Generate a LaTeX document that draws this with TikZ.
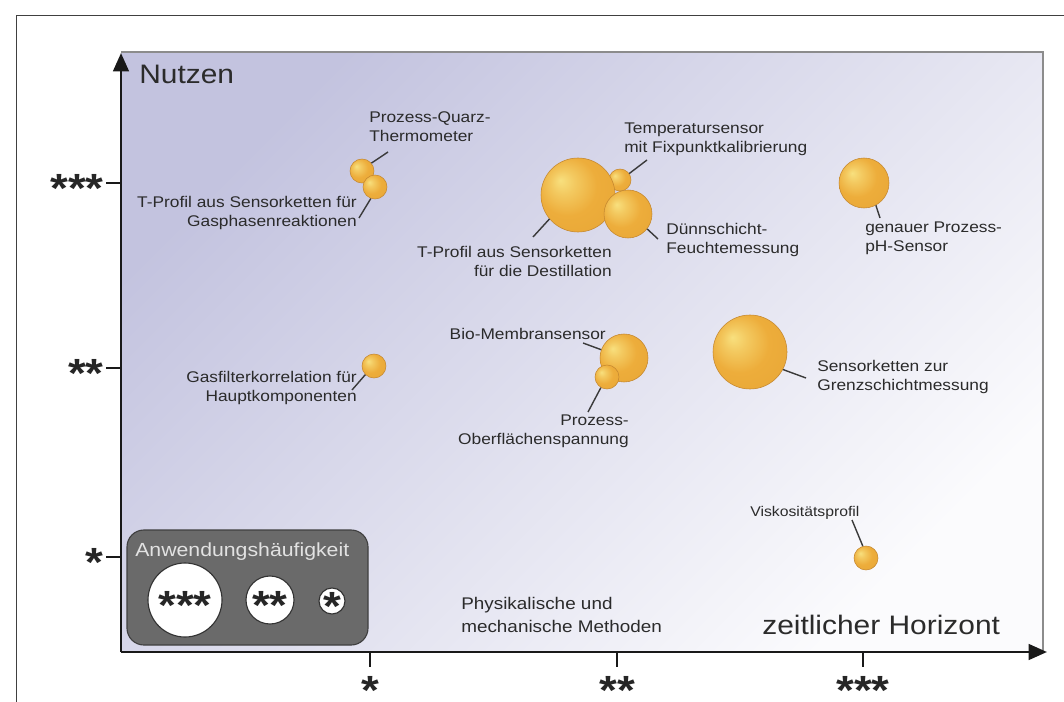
\documentclass[tikz,border=0pt]{standalone}
\usepackage{fontspec}
\setmainfont{Liberation Sans}[FakeStretch=1.12]
\usepackage{tikz}
\usetikzlibrary{arrows.meta,calc}

\definecolor{bglav}{HTML}{C3C3DF}
\definecolor{bgmid}{HTML}{DCDCEB}
\definecolor{bgend}{HTML}{FBFBFD}
\definecolor{bubhi}{HTML}{F8E07E}
\definecolor{bubmain}{HTML}{EDAD3B}
\definecolor{bubedge}{HTML}{D48E25}
\definecolor{bubline}{HTML}{C58830}
\definecolor{leadcol}{HTML}{3A3A3A}
\definecolor{txtcol}{HTML}{2B2B2B}
\definecolor{legfill}{HTML}{6A6A6A}
\definecolor{legtext}{HTML}{E2E2E2}

\pgfdeclareradialshading{bubble}{\pgfpoint{-12bp}{10bp}}{color(0bp)=(bubhi); color(8bp)=(bubhi!55!bubmain); color(20bp)=(bubmain); color(38bp)=(bubmain!80!bubedge); color(50bp)=(bubedge)}

\tikzset{
	bubble/.style={circle, inner sep=0pt, draw=bubline, line width=0.4pt, shading=bubble},
	leader/.style={draw=leadcol, line width=1pt},
	lbl/.style={inner sep=0pt, text=txtcol, font=\fontsize{11}{13.5}\selectfont},
	axisline/.style={line width=2pt, color=black!90},
	starlbl/.style={inner sep=0pt, text=black!85, font=\fontsize{29}{29}\selectfont\bfseries},
	legcirc/.style={circle, inner sep=0pt, fill=white, draw=black!80, line width=0.8pt}
}
% bubble at pixel position with pixel radius
\def\bub(#1)(#2,#3)(#4){\node[bubble, minimum size={2*#4*0.025cm}] (#1) at (#2,#3) {};}

\begin{document}
\begin{tikzpicture}[x=0.025cm, y=-0.025cm]
		%%%%% START %%%%%
		\useasboundingbox (0,0) rectangle (1064,702);
		\fill[white] (0,0) rectangle (1064,702);
		
		%%%%% frame and plot area
		\draw[line width=0.6pt, color=black!75] (16,720) -- (16,15) -- (1080,15);
		\shade[top color=bglav, middle color=bgmid, bottom color=bgend, shading angle=45] (121,52) rectangle (1043,652);
		\draw[line width=1.2pt, color=black!45] (121,52) -- (1043,52) -- (1043,652);
		
		%%%%% axes
		\coordinate (origin) at (121,652);
		\coordinate (ytop) at (121,53);
		\coordinate (xend) at (1047,652);
		\draw[axisline, -{Triangle[length=13pt,width=11pt]}] (origin) -- (ytop);
		\draw[axisline, -{Triangle[length=13pt,width=11pt]}] (origin) -- (xend);
		
		\foreach \y/\s in {183/***, 368/**, 557/*}{
			\draw[axisline] (106,\y) -- (origin |- 0,\y);
			\node[starlbl, anchor=base east] (ys\y) at (104,\y+19) {\s};
		}
		\foreach \x/\s in {370/*, 617/**, 863/***}{
			\draw[axisline] (\x,652) -- (\x,667);
			\node[starlbl, anchor=base] (xs\x) at (\x,704) {\s};
		}
		
		\node[lbl, anchor=base west, font=\fontsize{19}{19}\selectfont] (nutzen) at (139,84) {Nutzen};
		\node[lbl, anchor=base west, font=\fontsize{19}{19}\selectfont] (horizont) at (762,634) {zeitlicher Horizont};
		\node[lbl, anchor=north west, align=left, font=\fontsize{12}{16}\selectfont] (methoden) at (461,597) {Physikalische und\\mechanische Methoden};
		
		%%%%% bubbles
		\bub(q1)(362,171)(12)
		\bub(q2)(375,187)(12)
		\bub(tfix)(620,180)(11)
		\bub(dest)(578,195)(37)
		\bub(duenn)(628,214)(24)
		\bub(ph)(864,183)(25)
		\bub(gas)(374,366)(12)
		\bub(bio)(624,358)(24)
		\bub(ober)(607,377)(12)
		\bub(grenz)(750,352)(37)
		\bub(visk)(866,558)(12)
		
		%%%%% labels
		\node[lbl, anchor=north west, align=left] (quarzlbl) at (369,111) {Prozess-Quarz-\\Thermometer};
		\node[lbl, anchor=north east, align=right] (gasplbl) at (357,196) {T-Profil aus Sensorketten für\\Gasphasenreaktionen};
		\node[lbl, anchor=north west, align=left] (tfixlbl) at (624,123) {Temperatursensor\\mit Fixpunktkalibrierung};
		\node[lbl, anchor=north west, align=left] (duennlbl) at (666,223) {Dünnschicht-\\Feuchtemessung};
		\node[lbl, anchor=north east, align=right] (destlbl) at (612,246) {T-Profil aus Sensorketten\\für die Destillation};
		\node[lbl, anchor=north west, align=left] (phlbl) at (865,222) {genauer Prozess-\\pH-Sensor};
		\node[lbl, anchor=north east, align=right] (gaslbl) at (357,371) {Gasfilterkorrelation für\\Hauptkomponenten};
		\node[lbl, anchor=north east] (biolbl) at (606,328) {Bio-Membransensor};
		\node[lbl, anchor=north east, align=right] (oberlbl) at (629,415) {Prozess-\\Oberflächenspannung};
		\node[lbl, anchor=north west, align=left] (grenzlbl) at (817,360) {Sensorketten zur\\Grenzschichtmessung};
		\node[lbl, anchor=north west, font=\fontsize{10}{12}\selectfont] (visklbl) at (750,506) {Viskositätsprofil};
		
		%%%%% leader lines
		\coordinate (qend) at (388,152);
		\coordinate (gpend) at (359,218);
		\coordinate (tfend) at (647,160);
		\coordinate (dsend) at (533,237);
		\coordinate (dnend) at (658,239);
		\coordinate (phend) at (880,218);
		\coordinate (gsend) at (352,390);
		\coordinate (bioend) at (583,343);
		\coordinate (obend) at (588,412);
		\coordinate (grend) at (806,378);
		\coordinate (vkend) at (852,520);
		\draw[leader] (q1.40) -- (qend);
		\draw[leader] (q2.-110) -- (gpend);
		\draw[leader] (tfix.35) -- (tfend);
		\draw[leader] (dest.220) -- (dsend);
		\draw[leader] (duenn.-38) -- (dnend);
		\draw[leader] (ph.-62) -- (phend);
		\draw[leader] (gas.-135) -- (gsend);
		\draw[leader] (bio.160) -- (bioend);
		\draw[leader] (ober.-120) -- (obend);
		\draw[leader] (grenz.-28) -- (grend);
		\draw[leader] (visk.105) -- (vkend);
		
		%%%%% legend
		\draw[fill=legfill, draw=black!75, line width=0.8pt, rounded corners=12pt] (127,530) rectangle (368,645);
		\node[inner sep=0pt, anchor=base west, text=legtext, font=\fontsize{13.5}{13.5}\selectfont] (legtitle) at (135,556) {Anwendungshäufigkeit};
		\node[legcirc, minimum size={74*0.025cm}] (leg3) at (185,600) {};
		\node[legcirc, minimum size={48*0.025cm}] (leg2) at (270,600) {};
		\node[legcirc, minimum size={26*0.025cm}] (leg1) at (332,601) {};
		\node[starlbl, anchor=base] (leg3s) at (185,619) {***};
		\node[starlbl, anchor=base] (leg2s) at (270,619) {**};
		\node[starlbl, anchor=base] (leg1s) at (332,620) {*};
		
		%%%%% END %%%%%
\end{tikzpicture}
\end{document}
